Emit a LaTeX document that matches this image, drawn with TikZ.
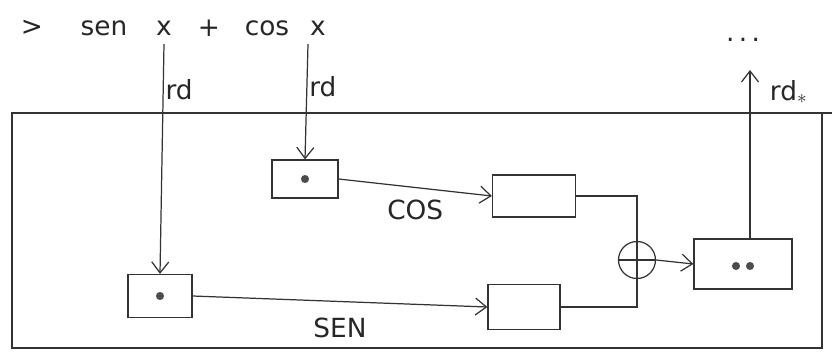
\documentclass[tikz,border=0pt]{standalone}
\usepackage{fontspec}
\setmainfont{DejaVu Sans}
\usetikzlibrary{arrows.meta, positioning, calc}

\begin{document}
\begin{tikzpicture}[x=0.02cm, y=-0.02cm,
    pencil/.style={draw=black!80, line width=0.7pt},
    blok/.style={pencil, rectangle, inner sep=0pt},
    flow/.style={pencil, -{Straight Barb[length=2.2mm, width=3.4mm]}},
    lbl/.style={font=\fontsize{15}{18}\selectfont, text=black!85, inner sep=1pt},
    dot/.style={fill=black!70}]
    \useasboundingbox (0,0) rectangle (832,362);

    % frame
    \draw[pencil] (832,113) -| (12,348) -| (822,113);

    % expression
    \node[lbl] (gt)   at (32,28)  {>};
    \node[lbl] (sen)  at (104,28) {sen};
    \node[lbl] (xs)   at (164,28) {x};
    \node[lbl] (op)   at (209,28) {+};
    \node[lbl] (cos)  at (267,28) {cos};
    \node[lbl] (xc)   at (318,28) {x};

    % boxes
    \node[blok, minimum width=1.32cm, minimum height=0.76cm] (b1) at (305,179) {};
    \node[blok, minimum width=1.66cm, minimum height=0.84cm] (b2) at (534,196) {};
    \node[blok, minimum width=1.28cm, minimum height=0.86cm] (b3) at (160,296) {};
    \node[blok, minimum width=1.44cm, minimum height=0.9cm]  (b4) at (524,307) {};
    \node[blok, minimum width=1.96cm, minimum height=1.0cm]  (b5) at (743,264) {};
    \node[pencil, circle, minimum size=0.74cm, inner sep=0pt] (sum) at (637,260) {};
    \draw[pencil] (sum.west) -- (sum.east);

    \fill[dot] (b1) circle (2.3pt);
    \fill[dot] (b3) circle (2.3pt);
    \foreach \dx in {-7,7}
        \fill[dot] ($(b5)+(\dx,2)$) circle (2.3pt);

    % inputs
    \coordinate (ts) at (164,44);
    \coordinate (tc) at (308,44);
    \draw[flow] (ts) -- (b3.north) node[lbl, pos=0.2, right] {rd};
    \draw[flow] (tc) -- (b1.north) node[lbl, pos=0.37, right] {rd};

    % wires
    \draw[flow] (b1.east) -- (b2.west) node[lbl, midway, below=6pt] {COS};
    \draw[flow] (b3.east) -- (b4.west) node[lbl, midway, below=8pt] {SEN};
    \draw[pencil] (b2.east) -| (sum.north);
    \draw[pencil] (sum.north) -- (sum.south) |- (b4.east);
    \draw[flow] (sum.east) -- (b5.west);

    % output
    \node[lbl] (more) at (743,40) {.\,.\,.};
    \coordinate (top) at (750,70);
    \draw[flow] (b5.north -| top) -- (top) node[lbl, pos=0.87, right=10pt] {rd$_*$};
\end{tikzpicture}
\end{document}
